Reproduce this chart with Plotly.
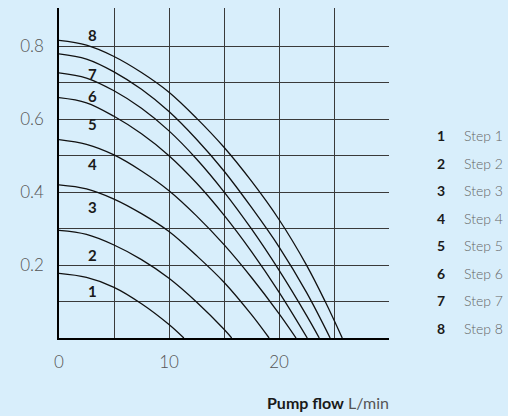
import plotly.graph_objects as go

# ---- data (pump flow L/min vs head) ----
flow_1 = [0, 2.5, 5, 7.5, 10, 11.35]
head_1 = [0.177, 0.166, 0.139, 0.094, 0.037, 0.0]

flow_2 = [0, 2.5, 5, 7.5, 10, 12.5, 15, 15.7]
head_2 = [0.295, 0.284, 0.255, 0.215, 0.164, 0.099, 0.024, 0.0]

flow_3 = [0, 2.5, 5, 7.5, 10, 12.5, 15, 17.5, 19.1]
head_3 = [0.42, 0.409, 0.381, 0.341, 0.292, 0.226, 0.153, 0.064, 0.0]

flow_4 = [0, 2.5, 5, 7.5, 10, 12.5, 15, 17.5, 20, 21.55]
head_4 = [0.544, 0.531, 0.502, 0.458, 0.404, 0.335, 0.256, 0.166, 0.067, 0.0]

flow_5 = [0, 2.5, 5, 7.5, 10, 12.5, 15, 17.5, 20, 22.57]
head_5 = [0.659, 0.645, 0.608, 0.560, 0.500, 0.425, 0.337, 0.237, 0.126, 0.0]

flow_6 = [0, 2.5, 5, 7.5, 10, 12.5, 15, 17.5, 20, 22.5, 23.66]
head_6 = [0.727, 0.713, 0.678, 0.630, 0.568, 0.491, 0.401, 0.299, 0.186, 0.062, 0.0]

flow_7 = [0, 2.5, 5, 7.5, 10, 12.5, 15, 17.5, 20, 22.5, 24.65]
head_7 = [0.779, 0.765, 0.730, 0.682, 0.621, 0.545, 0.458, 0.358, 0.25, 0.125, 0.0]

flow_8 = [0, 2.5, 5, 7.5, 10, 12.5, 15, 17.5, 20, 22.5, 24.2, 25.75]
head_8 = [0.816, 0.803, 0.772, 0.728, 0.674, 0.603, 0.523, 0.43, 0.325, 0.20, 0.10, 0.0]

step_numbers = ["1", "2", "3", "4", "5", "6", "7", "8"]
step_names = ["Step 1", "Step 2", "Step 3", "Step 4", "Step 5", "Step 6", "Step 7", "Step 8"]

x_tickvals = [0, 5, 10, 15, 20, 25]
x_ticktext = ["0", "", "10", "", "20", ""]
y_tickvals = [0.1, 0.2, 0.3, 0.4, 0.5, 0.6, 0.7, 0.8]
y_ticktext = ["", "0.2", "", "0.4", "", "0.6", "", "0.8"]

# ---- layout constants ----
BG = "#d8eefb"
FONT = "Lato"
label_x = 3.05
label_y = [0.128, 0.229, 0.359, 0.476, 0.587, 0.665, 0.725, 0.830]

flows = [flow_1, flow_2, flow_3, flow_4, flow_5, flow_6, flow_7, flow_8]
heads = [head_1, head_2, head_3, head_4, head_5, head_6, head_7, head_8]

fig = go.Figure()
for i, (fx, hy) in enumerate(zip(flows, heads)):
    fig.add_trace(go.Scatter(
        x=fx, y=hy, mode="lines", name=step_names[i],
        line=dict(color="#111111", width=1.3, shape="spline", smoothing=1.0),
        showlegend=False, hoverinfo="skip",
    ))

annotations = []
for i, num in enumerate(step_numbers):
    annotations.append(dict(
        x=label_x, y=label_y[i], xref="x", yref="y", text=num, showarrow=False,
        font=dict(family=FONT, size=15, color="#1a1a1a", weight=700),
        xanchor="center", yanchor="middle",
    ))

# legend on the right, drawn as text
L, PW, B, PH = 59, 330, 338.5, 330
for i in range(8):
    py = 136 + 27.5 * i
    yp = (B - py) / PH
    annotations.append(dict(
        x=(447 - L) / PW, y=yp, xref="paper", yref="paper", text="<b>%s</b>" % step_numbers[i],
        showarrow=False, xanchor="right", yanchor="middle",
        font=dict(family=FONT, size=14, color="#1a1a1a"),
    ))
    annotations.append(dict(
        x=(462 - L) / PW, y=yp, xref="paper", yref="paper", text=step_names[i],
        showarrow=False, xanchor="left", yanchor="middle",
        font=dict(family=FONT, size=14, color="#666666", weight=300),
    ))

# axis title
annotations.append(dict(
    x=(391 - L) / PW, y=(B - 403) / PH, xref="paper", yref="paper",
    text="<b>Pump flow</b> <span style='color:#555555'>L/min</span>",
    showarrow=False, xanchor="right", yanchor="middle",
    font=dict(family=FONT, size=16, color="#1a1a1a"),
))

fig.update_layout(
    width=508, height=416,
    margin=dict(l=59, r=508 - 389, t=8, b=78),
    paper_bgcolor=BG, plot_bgcolor=BG,
    annotations=annotations,
    showlegend=False,
)
fig.update_xaxes(
    range=[0, 30], tickvals=x_tickvals, ticktext=x_ticktext,
    showgrid=True, gridcolor="#3a3a3a", gridwidth=1,
    showline=True, linecolor="#000000", linewidth=1.5,
    zeroline=False, ticks="outside", ticklen=8, tickcolor="rgba(0,0,0,0)",
    tickfont=dict(family=FONT, size=17, color="#555555", weight=300),
)
fig.update_yaxes(
    range=[0, 0.905], tickvals=y_tickvals, ticktext=y_ticktext,
    showgrid=True, gridcolor="#3a3a3a", gridwidth=1,
    showline=True, linecolor="#000000", linewidth=1.5,
    zeroline=False, ticks="outside", ticklen=10, tickcolor="rgba(0,0,0,0)",
    tickfont=dict(family=FONT, size=17, color="#555555", weight=300),
)

fig.write_html(
    "out.html",
    config={"displayModeBar": False},
    post_script="document.body.style.margin='0';document.body.style.background='%s';" % BG,
)
